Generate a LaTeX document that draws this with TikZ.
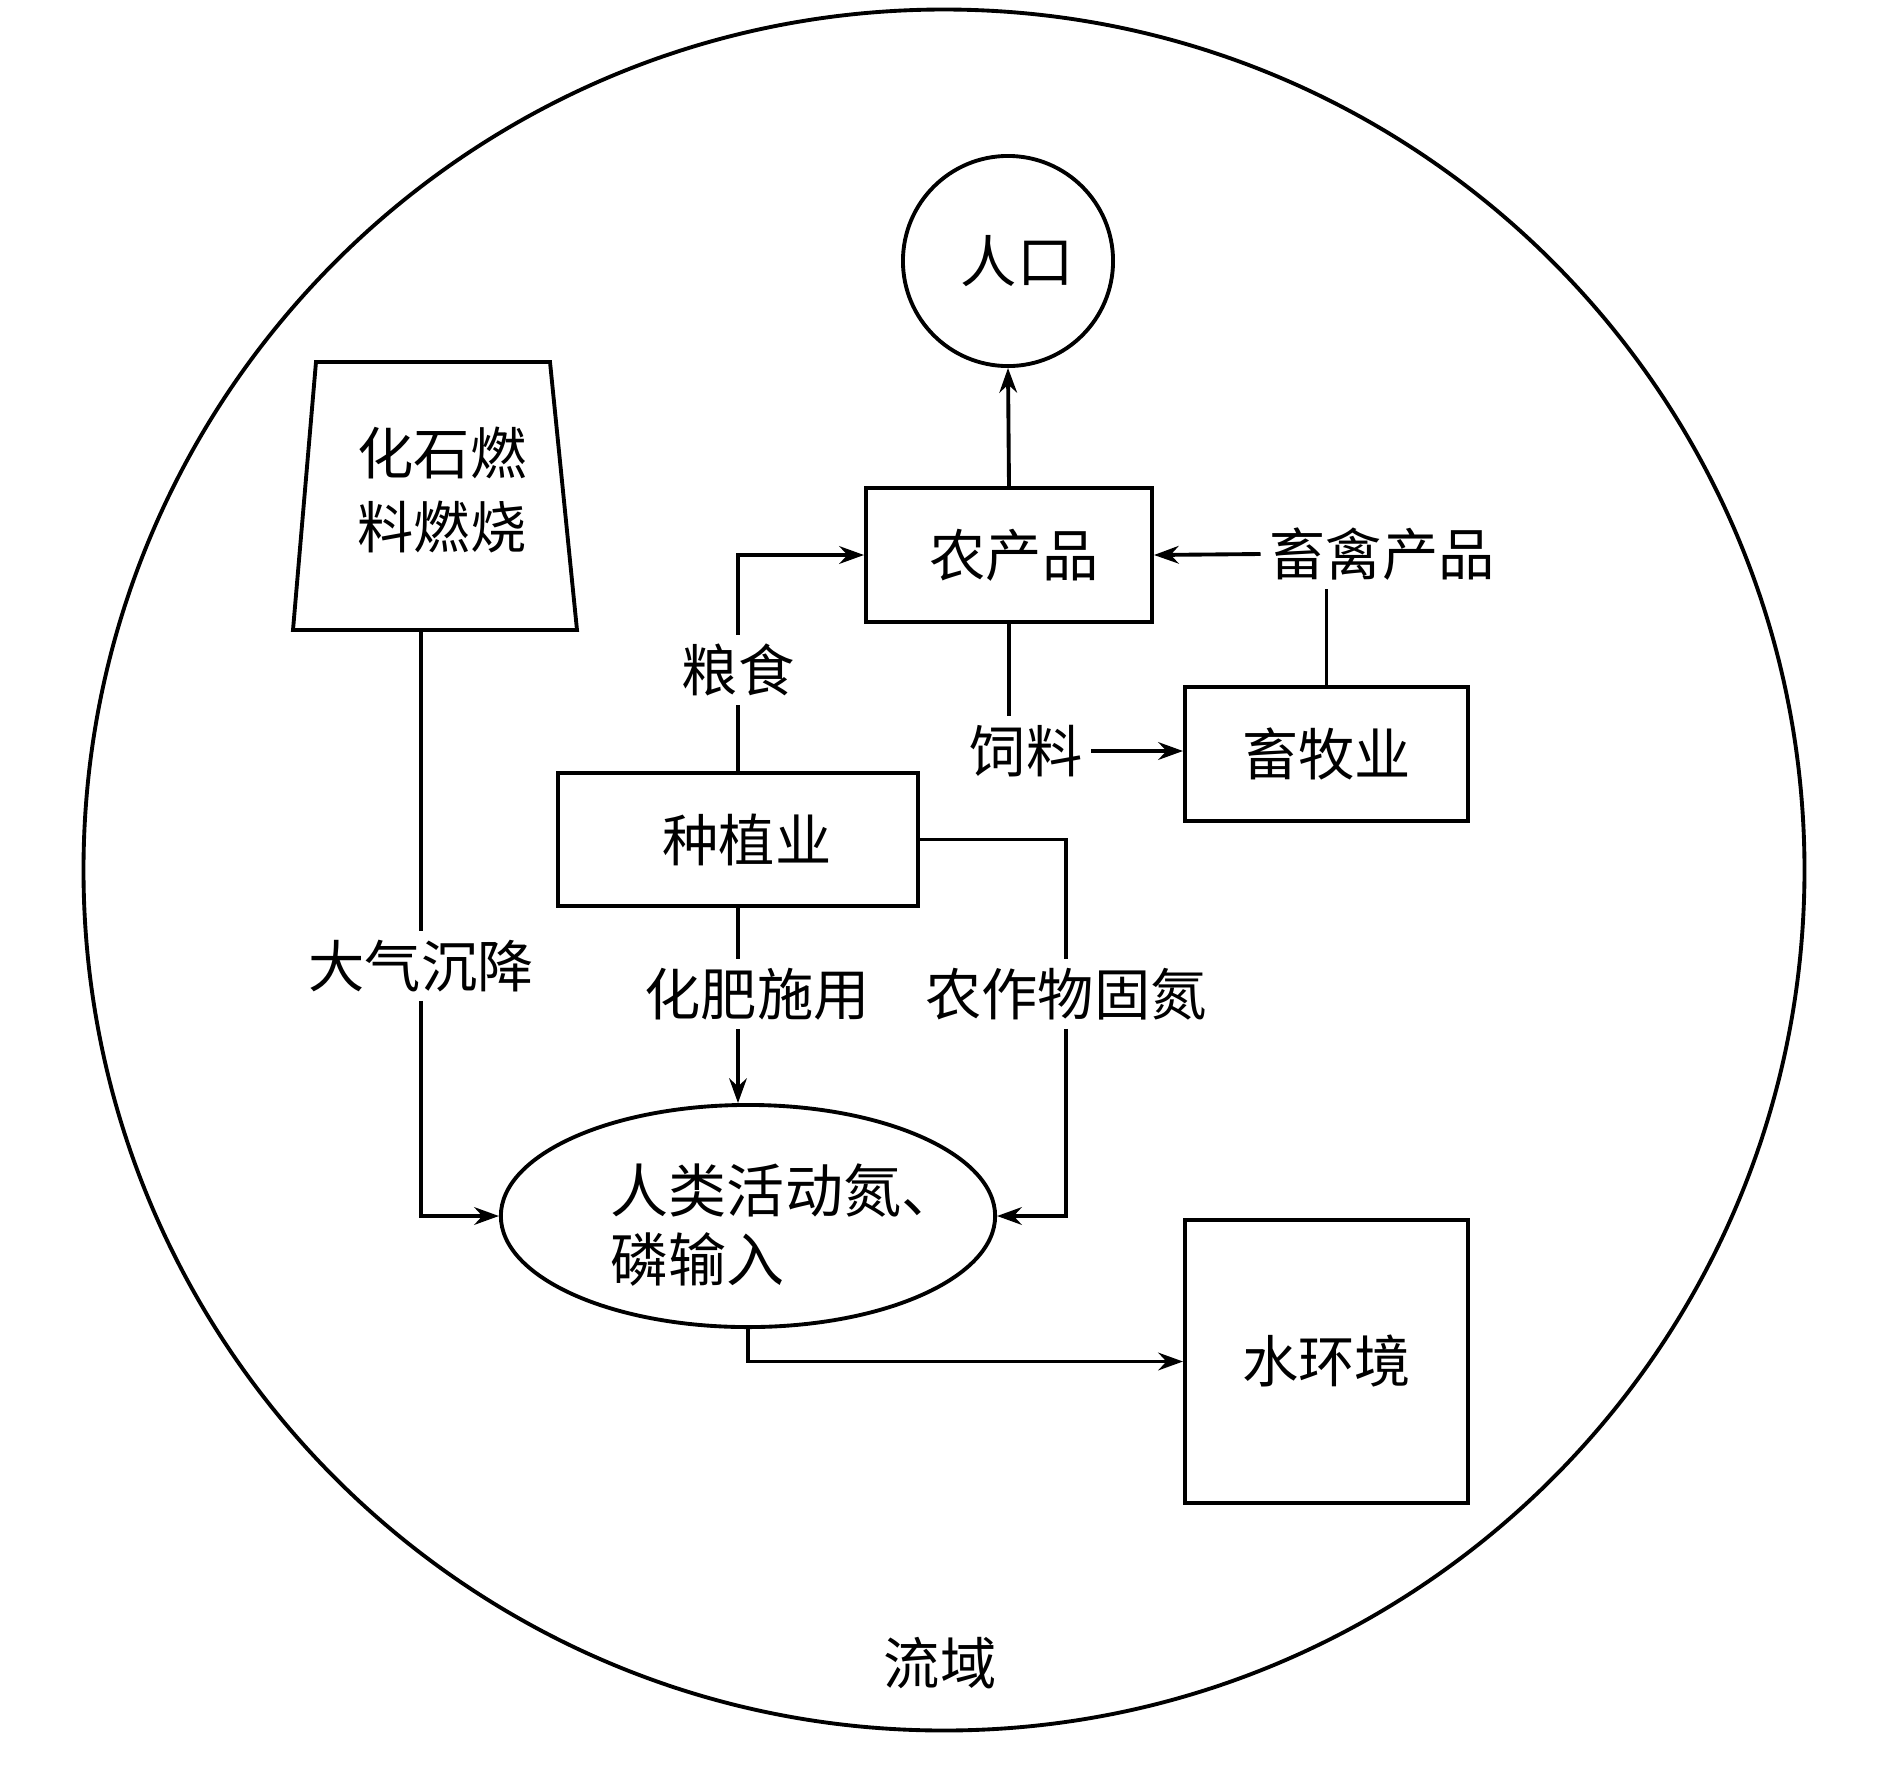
\documentclass[tikz,border=0pt]{standalone}
\usepackage{fontspec}
\setmainfont{Noto Sans CJK SC}
\usetikzlibrary{arrows.meta,shapes.geometric}
\begin{document}
\begin{tikzpicture}[x=0.01cm,y=-0.01cm, line width=1.1pt,
  font=\fontsize{16pt}{21pt}\selectfont,
  >={Stealth[length=7pt,width=5pt]},
  lbl/.style={inner sep=2pt},
  box/.style={draw, inner sep=0pt, minimum height=1.34cm}]
\useasboundingbox (0,0) rectangle (1890,1772);
% outer basin circle
\node[draw, circle, minimum size=17.2cm, inner sep=0pt] (basin) at (944,870) {};
\node[lbl] (basinlbl) at (940,1663) {流域};
% population
\node[draw, circle, minimum size=2.1cm, inner sep=0pt] (pop) at (1008,261) {\hspace*{0.18cm}人口};
% boxes
\node[box, minimum width=2.86cm] (nong) at (1009,555) {\hspace*{0.1cm}农产品};
\node[box, minimum width=2.83cm] (xm) at (1326.5,754) {畜牧业};
\node[box, minimum width=3.6cm, minimum height=1.33cm] (zz) at (738,839.5) {\hspace*{0.18cm}种植业};
\node[box, minimum width=2.83cm, minimum height=2.83cm] (water) at (1326.5,1361.5) {水环境};
\node[draw, ellipse, minimum width=4.94cm, minimum height=2.22cm, inner sep=0pt] (ell) at (748,1216) {};
\node[inner sep=0pt, anchor=west, align=left, font=\fontsize{16.5pt}{19.6pt}\selectfont] (elltxt) at (609,1225) {人类活动氮、\\磷输入};
% fossil fuel trapezoid
\draw (316,362) -- (550,362) -- (577,630) -- (293,630) -- cycle;
\coordinate (fb) at (421,630);
\node[inner sep=0pt, align=left] (fossil) at (442,490) {化石燃\\料燃烧};
% labels
\node[lbl] (xq) at (1382,554) {畜禽产品};
\node[lbl] (sl) at (1026,751) {饲料};
\node[lbl] (lsh) at (738,670) {粮食};
\node[lbl] (hf) at (757,994) {化肥施用};
\node[lbl] (gd) at (1066,994) {农作物固氮};
\node[lbl] (dq) at (421,966) {大气沉降};
% connectors
\draw[->] (nong.north) -- (pop.south);
\draw[->] (xq.west) -- (nong.east);
\draw (xm.north) -- (xm.north |- xq.south);
\draw (nong.south) -- (nong.south |- sl.north);
\draw[->] (sl.east) -- (sl.east -| xm.west);
\draw (zz.north) -- (lsh.south);
\draw[->] (lsh.north) |- (nong.west);
\draw (zz.south) -- (zz.south |- hf.north);
\draw[->] (zz.south |- hf.south) -- (ell.north -| zz.south);
\draw (zz.east) -| (gd.north);
\draw[->] (gd.south) |- (ell.east);
\draw (fb) -- (dq.north);
\draw[->] (dq.south) |- (ell.west);
\draw[->] (ell.south) |- (water.west);
\end{tikzpicture}
\end{document}
